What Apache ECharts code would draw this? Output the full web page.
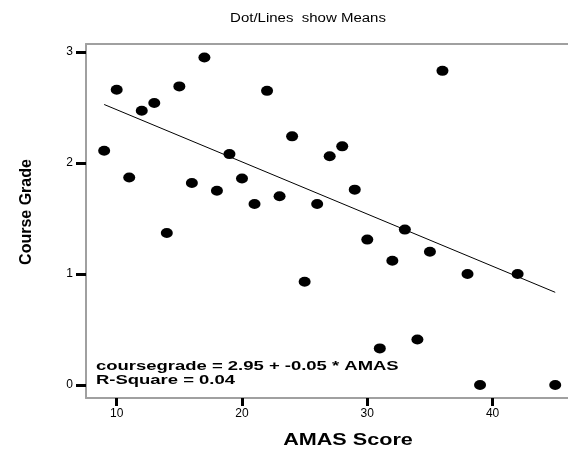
<!DOCTYPE html>
<html>
<head>
<meta charset="utf-8">
<script src="https://cdn.jsdelivr.net/npm/echarts@6/dist/echarts.min.js"></script>
<style>
  html, body { margin: 0; padding: 0; background: #fff; }
  #chart { width: 568px; height: 456px; }
</style>
</head>
<body>
<div id="chart"></div>
<script>
// AMAS score (x) and mean course grade (y) for each score
const amasScores = [9, 10, 11, 12, 13, 14, 15, 16, 17, 18, 19, 20, 21, 22, 23, 24, 25, 26,
                    27, 28, 29, 30, 31, 32, 33, 34, 35, 36, 38, 39, 42, 45];
const meanGrades = [2.11, 2.66, 1.87, 2.47, 2.54, 1.37, 2.69, 1.82, 2.95, 1.75, 2.08, 1.86,
                    1.63, 2.65, 1.70, 2.24, 0.93, 1.63, 2.06, 2.15, 1.76, 1.31, 0.33, 1.12,
                    1.40, 0.41, 1.20, 2.83, 1.00, 0.00, 1.00, 0.00];

// Fitted linear model
const fitIntercept = 2.95;
const fitSlope = -0.047;
const fitRange = [9, 45];
const fitText = ['coursegrade = 2.95 + -0.05 * AMAS', 'R-Square = 0.04'];

const xTicks = [10, 20, 30, 40];
const yTicks = [0, 1, 2, 3];

const chartTitle = 'Dot/Lines  show Means';
const xTitle = 'AMAS Score';
const yTitle = 'Course Grade';

const font = '"Liberation Sans", Arial, sans-serif';

const points = amasScores.map((x, i) => [x, meanGrades[i]]);
const fitLine = fitRange.map(x => [x, fitIntercept + fitSlope * x]);

// wide, slightly stretched lettering
function label(text, x, y, size, weight, stretch, extra) {
  return Object.assign({
    type: 'text', x: x, y: y, scaleX: stretch, silent: true,
    style: {
      text: text, fill: '#000', align: 'center', verticalAlign: 'middle',
      font: weight + ' ' + size + 'px ' + font
    }
  }, extra || {});
}

const frame = { show: true, onZero: false, lineStyle: { color: '#a0a0a0', width: 2 } };

const chart = echarts.init(document.getElementById('chart'), null, { renderer: 'canvas' });
chart.setOption({
  animation: false,
  backgroundColor: '#fff',
  grid: { left: 86, top: 44, right: 0, bottom: 58 },
  xAxis: [
    {
      type: 'value', min: 7.55, max: 46.02,
      axisLine: frame,
      splitLine: { show: false },
      axisTick: { show: true, customValues: xTicks, length: 8, lineStyle: { color: '#000', width: 3 } },
      axisLabel: { customValues: xTicks, fontFamily: font, fontSize: 12, color: '#000', margin: 10 }
    },
    {
      // top edge of the plot frame
      type: 'value', position: 'top', min: 7.55, max: 46.02,
      axisLine: frame, axisTick: { show: false }, axisLabel: { show: false },
      splitLine: { show: false }
    }
  ],
  yAxis: {
    type: 'value', min: -0.117, max: 3.072,
    axisLine: frame,
    splitLine: { show: false },
    axisTick: { show: true, customValues: yTicks, length: 10, lineStyle: { color: '#000', width: 3 } },
    axisLabel: { customValues: yTicks, fontFamily: font, fontSize: 12, color: '#000', margin: 13 }
  },
  graphic: [
    label(chartTitle, 308, 19, 12, 'normal', 1.25),
    label(xTitle, 348, 441, 16, 'bold', 1.35),
    label(yTitle, 27, 212, 16, 'bold', 1, { rotation: Math.PI / 2 }),
    {
      type: 'group', x: 96, y: 0, silent: true, scaleX: 1.42,
      children: fitText.map((t, i) => ({
        type: 'text', x: 0, y: 366 + i * 14,
        style: { text: t, fill: '#000', align: 'left', verticalAlign: 'middle',
                 font: 'bold 13px ' + font }
      }))
    }
  ],
  series: [
    {
      type: 'line', data: fitLine, symbol: 'none', silent: true,
      lineStyle: { color: '#000', width: 1 }, z: 2
    },
    {
      type: 'scatter', data: points, symbol: 'circle', symbolSize: [12, 10],
      itemStyle: { color: '#000', opacity: 1 }, z: 3
    }
  ]
});
</script>
</body>
</html>
